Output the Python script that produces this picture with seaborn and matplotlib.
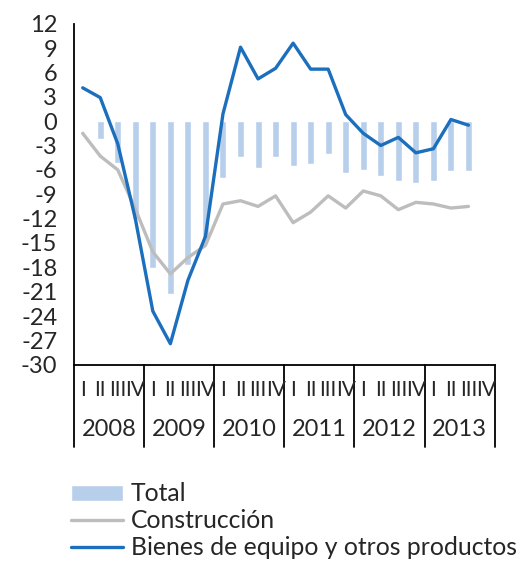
import numpy as np
import pandas as pd
import matplotlib
matplotlib.use("Agg")
import matplotlib.pyplot as plt
import matplotlib.transforms as mtransforms
import seaborn as sns

# ---- data (2008 Q1 .. 2013 Q3) ----
years = ["2008", "2009", "2010", "2011", "2012", "2013"]
quarters = ["I", "II", "III", "IV"]
total = [0.2, -2.2, -5.2, -12.0, -18.1, -21.3, -17.7, -14.4,
         -7.0, -4.4, -5.8, -4.4, -5.5, -5.3, -4.0, -6.4,
         -6.0, -6.7, -7.4, -7.6, -7.4, -6.2, -6.2]
construccion = [-1.5, -4.3, -6.0, -10.8, -16.1, -18.8, -16.8, -15.3,
                -10.2, -9.8, -10.5, -9.2, -12.5, -11.2, -9.2, -10.7,
                -8.6, -9.2, -10.9, -10.0, -10.2, -10.7, -10.5]
bienes = [4.1, 2.9, -2.8, -12.0, -23.4, -27.4, -19.6, -14.2,
          0.9, 9.1, 5.2, 6.5, 9.6, 6.4, 6.4, 0.8,
          -1.5, -3.0, -2.0, -3.9, -3.4, 0.2, -0.5]
yticks = list(range(-30, 13, 3))

df = pd.DataFrame({
    "pos": np.arange(len(total)),
    "Total": total,
    "Construcción": construccion,
    "Bienes": bienes,
})

sns.set_style("white")
plt.rcParams["font.family"] = ["Lato", "DejaVu Sans"]
plt.rcParams["axes.unicode_minus"] = False

FS = 17

fig = plt.figure(figsize=(5.17, 5.63), dpi=100)
ax = fig.add_axes([0.143, 0.352, 0.814, 0.606])

bar_color = "#B8CFEB"
gray = "#BDBDBD"
blue = "#1C6FBD"

sns.barplot(data=df, x="pos", y="Total", native_scale=True, width=0.4,
            color=bar_color, saturation=1, label="Total", ax=ax, zorder=1)
sns.lineplot(data=df, x="pos", y="Construcción", color=gray, lw=2.4,
             label="Construcción", ax=ax, zorder=2)
sns.lineplot(data=df, x="pos", y="Bienes", color=blue, lw=2.4,
             label="Bienes de equipo y otros productos", ax=ax, zorder=3)

nq = len(years) * 4
ax.set_xlim(-0.5, nq - 0.5)
ax.set_ylim(-30, 12)
ax.set_yticks(yticks)
ax.set_yticklabels([str(t) for t in yticks], fontsize=FS)
ax.set_xticks([])
ax.set_xlabel("")
ax.set_ylabel("")
for s in ["top", "right"]:
    ax.spines[s].set_visible(False)
for s in ["left", "bottom"]:
    ax.spines[s].set_color("black")
    ax.spines[s].set_linewidth(1.3)
ax.tick_params(axis="y", direction="out", length=6, width=1.3, color="black", pad=6)

# two-level category axis
trans = mtransforms.blended_transform_factory(ax.transData, ax.transAxes)
for k in range(len(years) + 1):
    ax.plot([4 * k - 0.5, 4 * k - 0.5], [0, -0.24], transform=trans,
            color="black", lw=1.3, clip_on=False)
for k, yr in enumerate(years):
    for j, q in enumerate(quarters):
        ax.text(4 * k + j, -0.073, q, transform=trans, ha="center", va="center",
                fontsize=15)
    ax.text(4 * k + 1.5, -0.19, yr, transform=trans, ha="center", va="center",
            fontsize=FS)

handles, labels = ax.get_legend_handles_labels()
order = [labels.index("Total"), labels.index("Construcción"),
         labels.index("Bienes de equipo y otros productos")]
leg = ax.legend([handles[i] for i in order], [labels[i] for i in order],
                loc="upper left", bbox_to_anchor=(0.138, 0.143),
                bbox_transform=fig.transFigure, frameon=False, fontsize=17.8,
                handlelength=2.1, handleheight=0.6, handletextpad=0.3,
                labelspacing=0.15, borderpad=0, borderaxespad=0)

fig.savefig("out.png", dpi=100)
